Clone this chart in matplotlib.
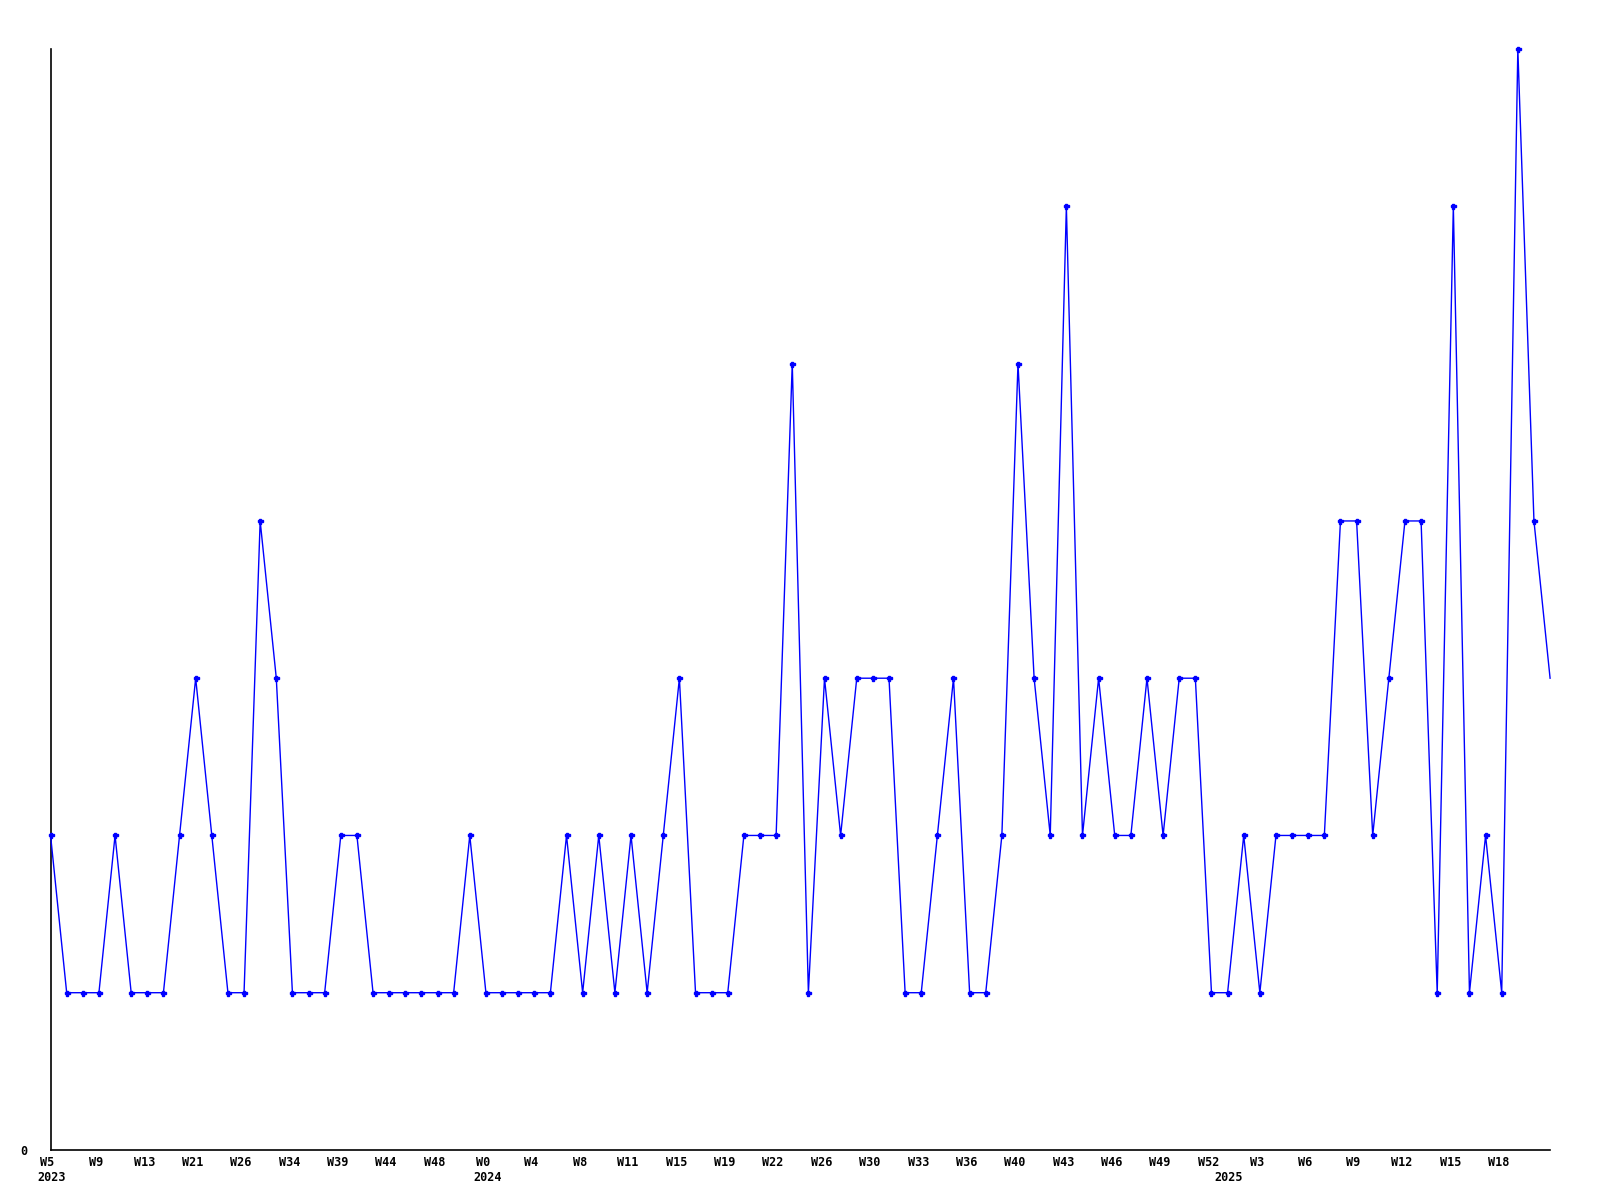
import matplotlib
matplotlib.use("Agg")
import matplotlib.pyplot as plt
from matplotlib.transforms import ScaledTranslation

values = [2, 1, 1, 1, 2, 1, 1, 1, 2, 3, 2, 1, 1, 4, 3, 1, 1, 1, 2, 2,
          1, 1, 1, 1, 1, 1, 2, 1, 1, 1, 1, 1, 2, 1, 2, 1, 2, 1, 2, 3,
          1, 1, 1, 2, 2, 2, 5, 1, 3, 2, 3, 3, 3, 1, 1, 2, 3, 1, 1, 2,
          5, 3, 2, 6, 2, 3, 2, 2, 3, 2, 3, 3, 1, 1, 2, 1, 2, 2, 2, 2,
          4, 4, 2, 3, 4, 4, 1, 6, 1, 2, 1, 7, 4, 3]

week_labels = ["W5", "W9", "W13", "W21", "W26", "W34", "W39", "W44", "W48",
               "W0", "W4", "W8", "W11", "W15", "W19", "W22", "W26", "W30",
               "W33", "W36", "W40", "W43", "W46", "W49", "W52",
               "W3", "W6", "W9", "W12", "W15", "W18"]
label_step = 3
year_labels = ["2023", "2024", "2025"]
year_positions = [0, 27, 73]

fig = plt.figure(figsize=(16, 12), dpi=100)
ax = fig.add_axes([0.0316, 0.0417, 0.9372, 0.9173])

x = list(range(len(values)))
ax.plot(x, values, color="#0000FF", linewidth=1.0, marker="P", markersize=3.6,
        markevery=list(range(len(values) - 1)), clip_on=False, zorder=3)

ax.set_xlim(0, len(values) - 1)
ax.set_ylim(0, 7)

ax.spines["top"].set_visible(False)
ax.spines["right"].set_visible(False)
ax.spines["left"].set_linewidth(1.2)
ax.spines["bottom"].set_linewidth(1.2)

ax.set_yticks([0])
ax.set_yticklabels(["0"], fontfamily="DejaVu Sans Mono", fontweight="bold", fontsize=8.5)
ax.tick_params(axis="y", length=0, pad=17)

ticks = [i * label_step for i in range(len(week_labels))]
ax.set_xticks(ticks)
ax.set_xticklabels(week_labels, fontfamily="DejaVu Sans Mono", fontweight="bold", fontsize=8.5)
ax.tick_params(axis="x", length=0, pad=4)
shift = ScaledTranslation(-3 / 100, 0, fig.dpi_scale_trans)
for lbl in ax.get_xticklabels():
    lbl.set_transform(lbl.get_transform() + shift)

for yl, yp in zip(year_labels, year_positions):
    ax.annotate(yl, xy=(yp, 0), xycoords=("data", "axes fraction"),
                xytext=(1, -15.5), textcoords="offset points", ha="center", va="top",
                fontfamily="DejaVu Sans Mono", fontweight="bold", fontsize=8.5,
                annotation_clip=False)

fig.savefig("out.png", dpi=100, facecolor="white")
